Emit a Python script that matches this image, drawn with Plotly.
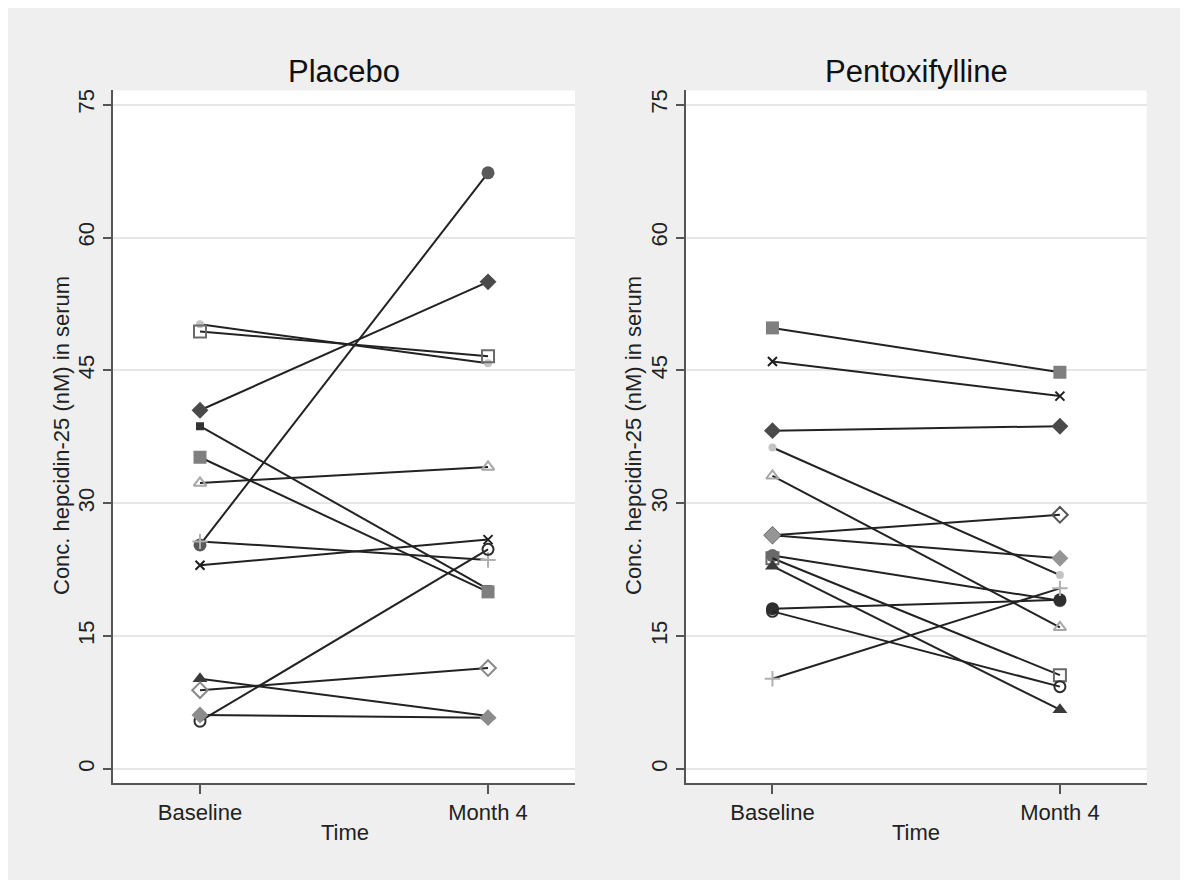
import plotly.graph_objects as go

# ---------------- data ----------------
times = ["Baseline", "Month 4"]
y_ticks = [0, 15, 30, 45, 60, 75]

placebo_baseline = [50.2, 49.4, 40.5, 38.7, 35.2, 32.3, 25.3, 25.7, 23.0, 10.2, 8.9, 5.4, 6.1]
placebo_month4 = [45.8, 46.6, 55.0, 20.3, 20.0, 34.1, 67.3, 23.6, 25.9, 6.0, 11.4, 24.8, 5.8]

pentox_baseline = [49.8, 46.0, 38.2, 36.3, 33.1, 26.4, 26.4, 24.1, 23.8, 22.9, 18.1, 17.8, 10.2]
pentox_month4 = [44.8, 42.1, 38.7, 21.9, 16.0, 28.7, 23.8, 19.0, 10.6, 6.7, 19.1, 9.3, 20.4]

# ---------------- styles ----------------
p_symbols = ["circle", "square-open", "diamond", "square", "square", "triangle-up-open", "circle",
             "cross-thin", "x-thin", "triangle-up", "diamond-open", "circle-open", "diamond"]
p_colors = ["#c4c4c4", "#6a6a6a", "#4a4a4a", "#333333", "#7f7f7f", "#a8a8a8", "#595959",
            "#b0b0b0", "#1e1e1e", "#3a3a3a", "#8a8a8a", "#2e2e2e", "#8c8c8c"]
p_sizes = [8, 12, 13, 8, 13, 11, 13, 11, 9, 13, 12, 11, 13]

t_symbols = ["square", "x-thin", "diamond", "circle", "triangle-up-open", "diamond-open", "diamond",
             "circle", "square-open", "triangle-up", "circle", "circle-open", "cross-thin"]
t_colors = ["#7f7f7f", "#1e1e1e", "#4a4a4a", "#c4c4c4", "#a8a8a8", "#555555", "#959595",
            "#6a6a6a", "#6a6a6a", "#3a3a3a", "#2e2e2e", "#2e2e2e", "#b0b0b0"]
t_sizes = [13, 9, 13, 8, 11, 12, 13, 13, 12, 13, 13, 11, 11]

FONT = "Liberation Sans, Arial, sans-serif"
LINE_COL = "#222222"
AX_COL = "#555555"
GRID_COL = "#e6e6e6"


def is_open(sym):
    return sym.endswith("-open") or sym.endswith("-thin")


fig = go.Figure()


def add_panel(base, m4, symbols, colors, sizes, xa, ya):
    for b, m, s, c, sz in zip(base, m4, symbols, colors, sizes):
        fig.add_trace(go.Scatter(
            x=times, y=[b, m], mode="lines+markers",
            line=dict(color=LINE_COL, width=2),
            marker=dict(symbol=s, size=sz, color=c,
                        line=dict(color=c, width=2 if is_open(s) else 0)),
            xaxis=xa, yaxis=ya, showlegend=False, hoverinfo="skip"))


add_panel(placebo_baseline, placebo_month4, p_symbols, p_colors, p_sizes, "x", "y")
add_panel(pentox_baseline, pentox_month4, t_symbols, t_colors, t_sizes, "x2", "y2")

W, H = 1172, 872

xcommon = dict(type="category", categoryorder="array", categoryarray=times,
               range=[-0.302, 1.302], showline=True, linecolor=AX_COL, linewidth=1.5,
               ticks="outside", ticklen=9, tickwidth=1.5, tickcolor=AX_COL,
               showgrid=False, zeroline=False,
               tickfont=dict(family=FONT, size=22, color="#222222"))
ycommon = dict(range=[-1.58, 76.6], tickvals=y_ticks, tickangle=-90,
               showline=True, linecolor=AX_COL, linewidth=1.5,
               ticks="outside", ticklen=8, tickwidth=1.5, tickcolor=AX_COL,
               showgrid=True, gridcolor=GRID_COL, gridwidth=2,
               zeroline=True, zerolinecolor=GRID_COL, zerolinewidth=2,
               tickfont=dict(family=FONT, size=22, color="#222222"))

fig.update_layout(
    width=W, height=H,
    margin=dict(l=0, r=0, t=0, b=0),
    paper_bgcolor="#efefef", plot_bgcolor="#ffffff",
    xaxis=dict(domain=[0.0896, 0.4838], anchor="y", **xcommon),
    yaxis=dict(domain=[0.1112, 0.9054], anchor="x", **ycommon),
    xaxis2=dict(domain=[0.5782, 0.9716], anchor="y2", **xcommon),
    yaxis2=dict(domain=[0.1112, 0.9054], anchor="x2", **ycommon),
)


def px_x(ax):
    return (ax - 8) / W


def px_y(ay):
    return 1 - (ay - 8) / H


ann = []
for title, cx in [("Placebo", 344), ("Pentoxifylline", 916)]:
    ann.append(dict(text=title, x=px_x(cx), y=px_y(71), xref="paper", yref="paper",
                    xanchor="center", yanchor="middle", showarrow=False,
                    font=dict(family=FONT, size=31, color="#111111")))
for cx in [345, 916]:
    ann.append(dict(text="Time", x=px_x(cx), y=px_y(832), xref="paper", yref="paper",
                    xanchor="center", yanchor="middle", showarrow=False,
                    font=dict(family=FONT, size=22, color="#222222")))
for cx in [61, 633]:
    ann.append(dict(text="Conc. hepcidin-25 (nM) in serum", x=px_x(cx), y=px_y(436),
                    xref="paper", yref="paper", xanchor="center", yanchor="middle",
                    textangle=-90, showarrow=False,
                    font=dict(family=FONT, size=22, color="#222222")))
fig.update_layout(annotations=ann)

fig.write_html("out.html")
